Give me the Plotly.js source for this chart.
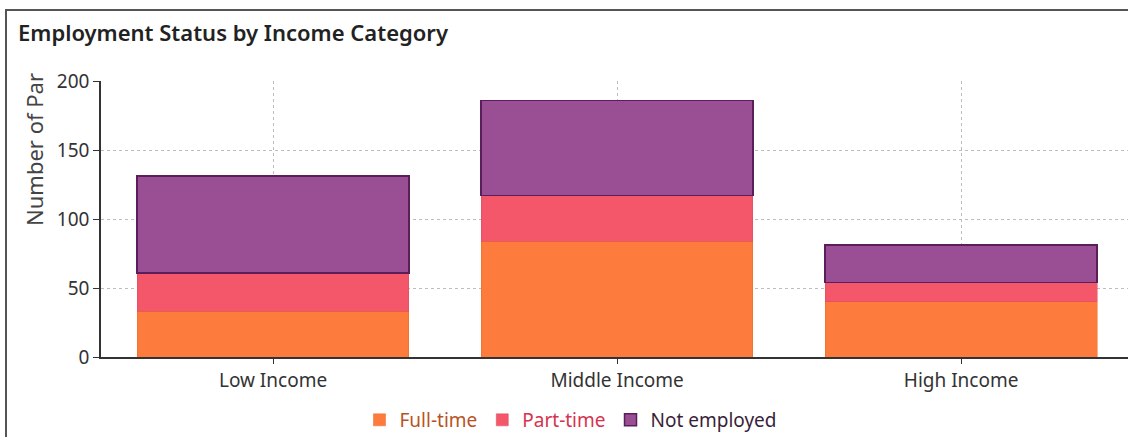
<!DOCTYPE html>
<html>
<head>
<meta charset="utf-8">
<script src="https://cdn.plot.ly/plotly-3.0.1.min.js"></script>
<style>
  html, body { margin: 0; padding: 0; background: #fff; }
  #chart { position: absolute; left: 0; top: 0; width: 1128px; height: 437px; }
  #frame { position: absolute; left: 5px; top: 9px; width: 1130px; height: 440px;
           border-left: 2px solid #555; border-top: 2px solid #555; pointer-events: none; }
</style>
</head>
<body>
<div id="chart"></div>
<div id="frame"></div>
<script>
const categories = ['Low Income', 'Middle Income', 'High Income'];
const fullTime = [33, 84, 40];
const partTime = [28, 33, 14];
const notEmployed = [70, 69, 27];
const seriesNames = ['Full-time', 'Part-time', 'Not employed'];
const seriesColors = ['#FD7B3C', '#F4566A', '#9A4E94'];
const legendTextColors = ['#B8531F', '#D6334F', '#3A1F3A'];
const titleText = 'Employment Status by Income Category';
const yTitleText = 'Number of Par';
const yTicks = [0, 50, 100, 150, 200];

const values = [fullTime, partTime, notEmployed];
const lineColors = ['#E8692C', '#E04A5E', '#5A1E5A'];
const lineWidths = [0.5, 0.5, 1.5];

const traces = values.map((v, i) => ({
  type: 'bar',
  x: categories,
  y: v,
  name: '<span style="color:' + legendTextColors[i] + '">' + seriesNames[i] + '</span>',
  marker: { color: seriesColors[i], line: { color: lineColors[i], width: lineWidths[i] } },
  hoverinfo: 'x+y'
}));

const layout = {
  width: 1128,
  height: 437,
  barmode: 'stack',
  bargap: 0.21,
  paper_bgcolor: '#ffffff',
  plot_bgcolor: '#ffffff',
  font: { family: '"Noto Sans", "Open Sans", sans-serif', color: '#333333', size: 19 },
  margin: { l: 101, r: 0, t: 81, b: 80, pad: 0 },
  title: {
    text: titleText,
    font: { family: '"Noto Sans", sans-serif', size: 22, color: '#222222', weight: 600 },
    xref: 'container', yref: 'container',
    x: 18 / 1128, xanchor: 'left',
    y: 1 - 33 / 437, yanchor: 'middle'
  },
  xaxis: {
    type: 'category',
    range: [-0.5, 2.485],
    showline: true, linecolor: '#333333', linewidth: 1.5,
    ticks: 'outside', ticklen: 5, tickcolor: '#333333', tickwidth: 1,
    showgrid: true, gridcolor: '#bdbdbd', griddash: 'dot', gridwidth: 1,
    tickfont: { size: 19, color: '#333333' },
    fixedrange: true
  },
  yaxis: {
    range: [0, 200],
    tickvals: yTicks,
    showline: true, linecolor: '#333333', linewidth: 1.5,
    ticks: 'outside', ticklen: 6, tickcolor: '#333333', tickwidth: 1,
    showgrid: true, gridcolor: '#bdbdbd', griddash: 'dot', gridwidth: 1,
    zeroline: false,
    tickfont: { size: 19, color: '#333333' },
    fixedrange: true
  },
  annotations: [{
    text: yTitleText,
    xref: 'paper', yref: 'paper',
    x: (34 - 101) / 1027, y: (357 - 150) / 276,
    xanchor: 'center', yanchor: 'middle',
    textangle: -90, showarrow: false,
    font: { size: 22, color: '#444444' }
  }],
  legend: {
    orientation: 'h',
    xref: 'container', yref: 'container',
    x: 571 / 1128, xanchor: 'center',
    y: 1 - 420 / 437, yanchor: 'middle',
    font: { size: 19 },
    itemwidth: 30,
    traceorder: 'normal',
    bgcolor: 'rgba(0,0,0,0)'
  },
  showlegend: true
};

Plotly.newPlot('chart', traces, layout, { displayModeBar: false, staticPlot: false });
</script>
</body>
</html>
